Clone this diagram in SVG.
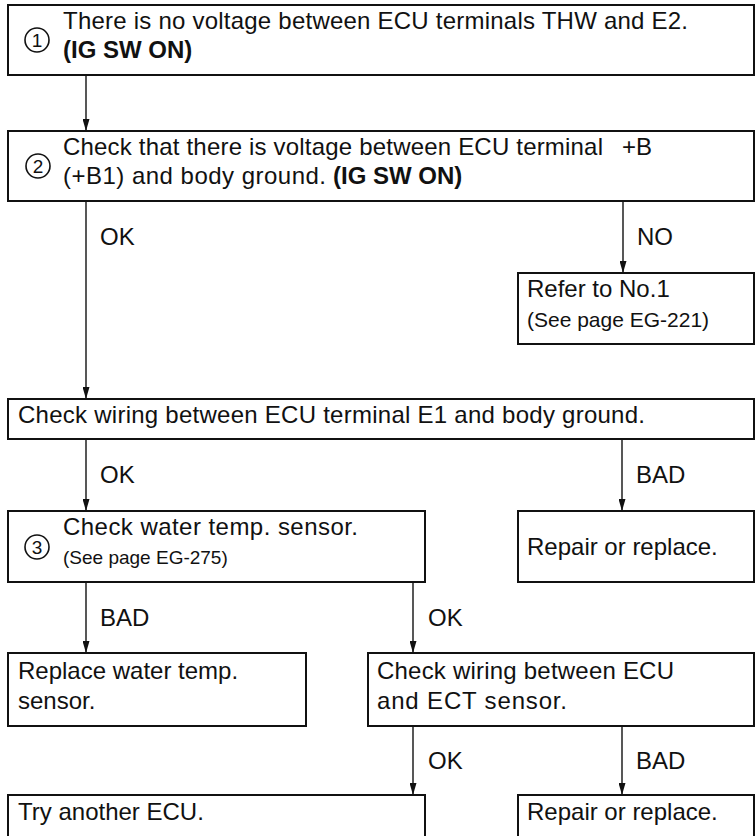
<svg xmlns="http://www.w3.org/2000/svg" width="756" height="836" viewBox="0 0 756 836">
<defs>
<style>
.box{fill:#fff;stroke:#111;stroke-width:2}
.t{font-family:"Liberation Sans",Arial,sans-serif;font-size:24px;fill:#111}
.s{font-family:"Liberation Sans",Arial,sans-serif;font-size:21px;fill:#111}
.xs{font-family:"Liberation Sans",Arial,sans-serif;font-size:19px;fill:#111}
.b{font-weight:bold}
.c{fill:none;stroke:#111;stroke-width:1.6}
.n{font-family:"Liberation Sans",Arial,sans-serif;font-size:19px;fill:#111;text-anchor:middle}
.ln{fill:none;stroke:#111;stroke-width:1.4}
</style>
<marker id="arr" viewBox="0 0 12 7" refX="12" refY="3.5" markerWidth="12" markerHeight="7" markerUnits="userSpaceOnUse" orient="auto">
<path d="M0,0 L12,3.5 L0,7 Z" fill="#111"/>
</marker>
</defs>
<rect width="756" height="836" fill="#fff"/>
<g id="connectors">
<line class="ln" x1="86" y1="75" x2="86" y2="131" marker-end="url(#arr)"/>
<line class="ln" x1="86" y1="201" x2="86" y2="399" marker-end="url(#arr)"/>
<line class="ln" x1="623" y1="201" x2="623" y2="273" marker-end="url(#arr)"/>
<line class="ln" x1="86" y1="439" x2="86" y2="511" marker-end="url(#arr)"/>
<line class="ln" x1="622" y1="439" x2="622" y2="511" marker-end="url(#arr)"/>
<line class="ln" x1="86" y1="582" x2="86" y2="653" marker-end="url(#arr)"/>
<line class="ln" x1="413" y1="582" x2="413" y2="653" marker-end="url(#arr)"/>
<line class="ln" x1="413" y1="726" x2="413" y2="795" marker-end="url(#arr)"/>
<line class="ln" x1="622" y1="726" x2="622" y2="795" marker-end="url(#arr)"/>
<text class="t" x="100" y="245">OK</text>
<text class="t" x="637" y="245">NO</text>
<text class="t" x="100" y="483">OK</text>
<text class="t" x="636" y="483">BAD</text>
<text class="t" x="100" y="626">BAD</text>
<text class="t" x="428" y="626">OK</text>
<text class="t" x="428" y="769">OK</text>
<text class="t" x="636" y="769">BAD</text>
</g>
<g id="step1">
<rect class="box" x="8" y="5" width="746" height="70"/>
<circle class="c" cx="37" cy="40" r="12"/>
<text class="n" x="37" y="46.5">1</text>
<text class="t" x="63" y="29" textLength="625" lengthAdjust="spacing">There is no voltage between ECU terminals THW and E2.</text>
<text class="t b" x="63" y="58">(IG SW ON)</text>
</g>
<g id="step2">
<rect class="box" x="8" y="131" width="746" height="70"/>
<circle class="c" cx="38" cy="166" r="12"/>
<text class="n" x="38" y="172.5">2</text>
<text class="t" x="63" y="155" textLength="540" lengthAdjust="spacing">Check that there is voltage between ECU terminal</text>
<text class="t" x="622" y="155">+B</text>
<text class="t" x="63" y="184" textLength="263" lengthAdjust="spacing">(+B1) and body ground.</text>
<text class="t b" x="333" y="184">(IG SW ON)</text>
</g>
<g id="refer1">
<rect class="box" x="518" y="273" width="236" height="71"/>
<text class="t" x="527" y="297">Refer to No.1</text>
<text class="s" x="527" y="327">(See page EG-221)</text>
</g>
<g id="checkE1">
<rect class="box" x="8" y="399" width="746" height="40"/>
<text class="t" x="18" y="423" textLength="627" lengthAdjust="spacing">Check wiring between ECU terminal E1 and body ground.</text>
</g>
<g id="step3">
<rect class="box" x="8" y="511" width="417" height="71"/>
<circle class="c" cx="37" cy="547" r="12"/>
<text class="n" x="37" y="553.5">3</text>
<text class="t" x="63" y="535" textLength="295" lengthAdjust="spacing">Check water temp. sensor.</text>
<text class="xs" x="63" y="564">(See page EG-275)</text>
</g>
<g id="repair1">
<rect class="box" x="518" y="511" width="236" height="71"/>
<text class="t" x="527" y="555">Repair or replace.</text>
</g>
<g id="replaceSensor">
<rect class="box" x="8" y="653" width="298" height="73"/>
<text class="t" x="18" y="679">Replace water temp.</text>
<text class="t" x="18" y="709">sensor.</text>
</g>
<g id="checkECT">
<rect class="box" x="368" y="653" width="386" height="73"/>
<text class="t" x="377" y="679" textLength="297" lengthAdjust="spacing">Check wiring between ECU</text>
<text class="t" x="377" y="709" textLength="190" lengthAdjust="spacing">and ECT sensor.</text>
</g>
<g id="tryECU">
<rect class="box" x="8" y="795" width="417" height="60"/>
<text class="t" x="18" y="820">Try another ECU.</text>
</g>
<g id="repair2">
<rect class="box" x="518" y="795" width="236" height="60"/>
<text class="t" x="527" y="820">Repair or replace.</text>
</g>
</svg>
